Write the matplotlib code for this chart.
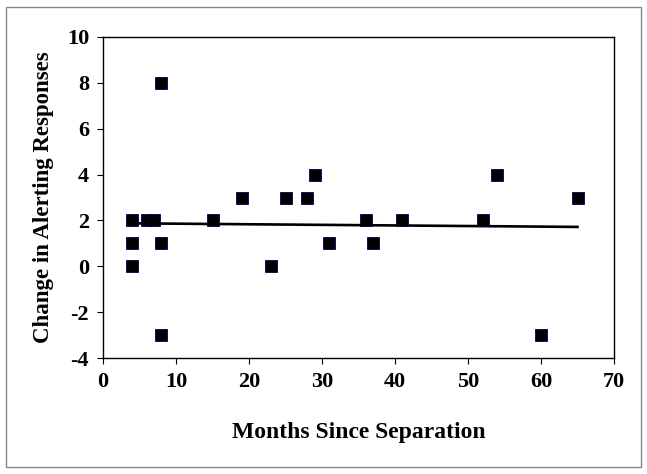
import numpy as np
import matplotlib
matplotlib.use("Agg")
import matplotlib.pyplot as plt
from matplotlib.patches import Rectangle

# months since separation vs change in alerting responses
months = [4, 4, 4, 6, 7, 8, 8, 8, 15, 19, 23, 25, 28, 29, 31, 36, 37, 41, 52, 54, 60, 65]
change = [2, 1, 0, 2, 2, 8, 1, -3, 2, 3, 0, 3, 3, 4, 1, 2, 1, 2, 2, 4, -3, 3]

xticks = [0, 10, 20, 30, 40, 50, 60, 70]
yticks = [-4, -2, 0, 2, 4, 6, 8, 10]

plt.rcParams['font.family'] = ['Liberation Serif', 'DejaVu Serif']
plt.rcParams['font.weight'] = 'bold'
plt.rcParams['axes.unicode_minus'] = False

fig = plt.figure(figsize=(6.47, 4.74), dpi=100)
ax = fig.add_axes([103 / 647, 1 - 358 / 474, (614 - 103) / 647, (358 - 37) / 474])

# outer frame round the whole chart
fig.patches.append(Rectangle((6 / 647, 7 / 474), 635 / 647, 460 / 474,
                             transform=fig.transFigure, fill=False,
                             edgecolor='#888888', linewidth=1))

ax.plot(months, change, linestyle='none', marker='s', markersize=8.5,
        markerfacecolor='black', markeredgecolor='#000060', markeredgewidth=0.6,
        zorder=3)

# linear trend line
m, b = np.polyfit(months, change, 1)
xs = np.array([min(months), max(months)])
ax.plot(xs, m * xs + b, color='black', linewidth=1.9, zorder=2)

ax.set_xlim(0, 70)
ax.set_ylim(-4, 10)
ax.set_xticks(xticks)
ax.set_yticks(yticks)
ax.tick_params(direction='out', length=4, width=0.8, labelsize=16, pad=6)
for lab in ax.get_xticklabels() + ax.get_yticklabels():
    lab.set_fontweight('bold')
for s in ax.spines.values():
    s.set_linewidth(1)

ax.set_xlabel('Months Since Separation', fontsize=17, fontweight='bold', labelpad=22)
ax.set_ylabel('Change in Alerting Responses', fontsize=16.5, fontweight='bold', labelpad=9)

fig.savefig('out.png', dpi=100)
